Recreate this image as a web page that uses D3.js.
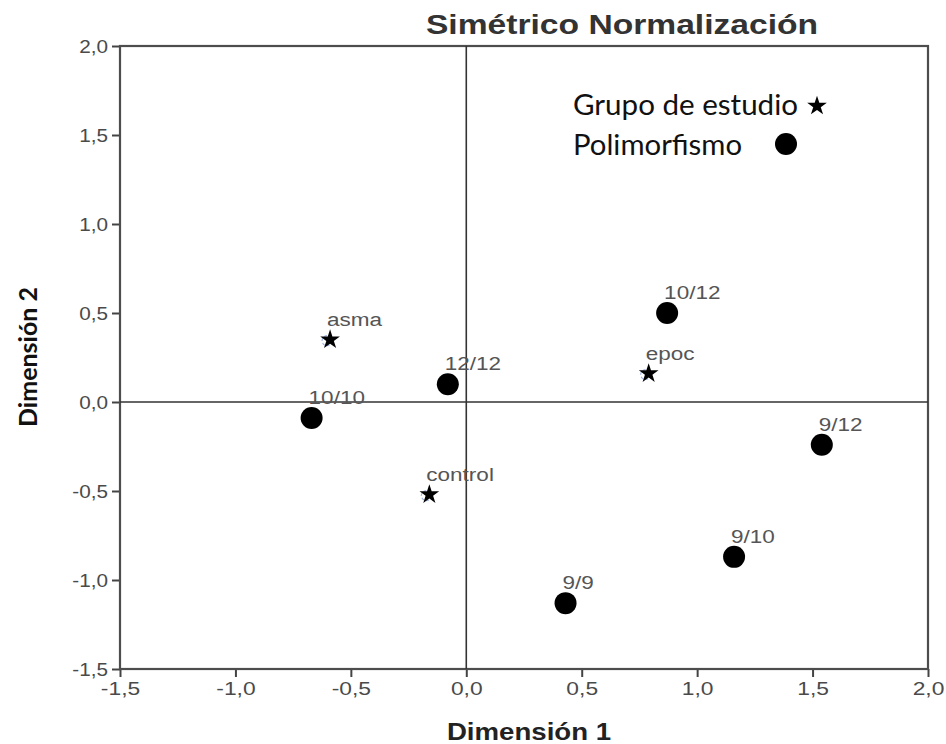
<!DOCTYPE html>
<html lang="es">
<head>
<meta charset="UTF-8">
<title>Simétrico Normalización</title>
<script src="https://d3js.org/d3.v7.min.js"></script>
<style>
	body { margin: 0; background: #fff; }
	svg { display: block; }
	.tick text { font-family: "Liberation Sans", Arial, sans-serif; fill: #4a4a4a; }
	.ptlabel { font-family: "Liberation Sans", Arial, sans-serif; font-size: 18px; fill: #555; }
</style>
</head>
<body>
<svg id="chart"></svg>
<script>
// Grupo de estudio (estrellas)
var grupos = ["asma", "epoc", "control"];
var grupoDim1 = [-0.59, 0.79, -0.16];
var grupoDim2 = [0.35, 0.16, -0.52];

// Polimorfismo (círculos)
var polimorfismos = ["10/10", "12/12", "10/12", "9/12", "9/10", "9/9"];
var polDim1 = [-0.67, -0.08, 0.87, 1.54, 1.16, 0.43];
var polDim2 = [-0.09, 0.10, 0.50, -0.24, -0.87, -1.13];

var xTicks = [-1.5, -1.0, -0.5, 0.0, 0.5, 1.0, 1.5, 2.0];
var yTicks = [-1.5, -1.0, -0.5, 0.0, 0.5, 1.0, 1.5, 2.0];
var legendLabels = ["Grupo de estudio", "Polimorfismo"];

var width = 946, height = 744;
var plotLeft = 120, plotRight = 928, plotTop = 46, plotBottom = 669;

var svg = d3.select("#chart").attr("width", width).attr("height", height);

var x = d3.scaleLinear().domain([-1.5, 2.0]).range([plotLeft, plotRight]);
var y = d3.scaleLinear().domain([-1.5, 2.0]).range([plotBottom, plotTop]);

var fmt = d3.formatLocale({decimal: ",", thousands: ".", grouping: [3], currency: ["", "€"], minus: "-"}).format(".1f");

// stretch text horizontally (the original rendering is wider than our fonts)
function stretch(sel, k) {
	sel.each(function() {
		var w = this.getComputedTextLength();
		d3.select(this).attr("textLength", w * k).attr("lengthAdjust", "spacingAndGlyphs");
	});
}

// axes
var gx = svg.append("g")
	.attr("transform", "translate(0," + plotBottom + ")")
	.call(d3.axisBottom(x).tickValues(xTicks).tickFormat(fmt).tickSize(8).tickPadding(5));
gx.selectAll("text").style("font-size", "19px");
stretch(gx.selectAll("text"), 1.2);

var gy = svg.append("g")
	.attr("transform", "translate(" + plotLeft + ",0)")
	.call(d3.axisLeft(y).tickValues(yTicks).tickFormat(fmt).tickSize(8).tickPadding(4));
gy.selectAll("text").style("font-size", "18px").attr("dy", "0.36em");
stretch(gy.selectAll("text"), 1.15);

svg.selectAll(".domain").remove();
svg.selectAll(".tick line").attr("stroke", "#444").attr("stroke-width", 2);

// frame
svg.append("rect")
	.attr("x", plotLeft).attr("y", plotTop)
	.attr("width", plotRight - plotLeft).attr("height", plotBottom - plotTop)
	.attr("fill", "none").attr("stroke", "#4d4d4d").attr("stroke-width", 2.2);

// reference lines at 0
svg.append("line")
	.attr("x1", x(0)).attr("x2", x(0)).attr("y1", plotTop).attr("y2", plotBottom)
	.attr("stroke", "#333").attr("stroke-width", 1.6);
svg.append("line")
	.attr("x1", plotLeft).attr("x2", plotRight).attr("y1", y(0)).attr("y2", y(0))
	.attr("stroke", "#333").attr("stroke-width", 1.6);

var star = d3.symbol().type(d3.symbolStar).size(120);

// Polimorfismo points
var polData = polimorfismos.map(function(d, i) { return {label: d, d1: polDim1[i], d2: polDim2[i]}; });
svg.selectAll("circle.pol").data(polData).enter().append("circle")
	.attr("class", "pol")
	.attr("cx", function(d) { return x(d.d1); })
	.attr("cy", function(d) { return y(d.d2); })
	.attr("r", 11)
	.attr("fill", "#000");

// Grupo de estudio points
var grpData = grupos.map(function(d, i) { return {label: d, d1: grupoDim1[i], d2: grupoDim2[i]}; });
svg.selectAll("circle.ghost").data(grpData).enter().append("circle")
	.attr("class", "ghost")
	.attr("cx", function(d) { return x(d.d1) - 3; })
	.attr("cy", function(d) { return y(d.d2) + 1; })
	.attr("r", 5)
	.attr("fill", "none").attr("stroke", "#9fb4e6").attr("stroke-width", 1.2)
	.attr("stroke-dasharray", "3,2");
svg.selectAll("path.grp").data(grpData).enter().append("path")
	.attr("class", "grp")
	.attr("d", star)
	.attr("transform", function(d) { return "translate(" + x(d.d1) + "," + y(d.d2) + ")"; })
	.attr("fill", "#000");

// point labels
var labels = svg.selectAll("text.ptlabel").data(polData.concat(grpData)).enter().append("text")
	.attr("class", "ptlabel")
	.attr("x", function(d) { return x(d.d1) - 3; })
	.attr("y", function(d) { return y(d.d2) - 14; })
	.text(function(d) { return d.label; });
stretch(labels, 1.25);

// title
var title = svg.append("text")
	.attr("x", 622).attr("y", 34)
	.attr("text-anchor", "middle")
	.style("font-family", "'Liberation Sans', Arial, sans-serif")
	.style("font-weight", "bold").style("font-size", "28px").style("fill", "#333")
	.text("Simétrico Normalización");
stretch(title, 1.2);

// axis titles
var xt = svg.append("text")
	.attr("x", 529).attr("y", 740)
	.attr("text-anchor", "middle")
	.style("font-family", "'Liberation Sans', Arial, sans-serif")
	.style("font-weight", "bold").style("font-size", "23px").style("fill", "#222")
	.text("Dimensión 1");
stretch(xt, 1.2);

svg.append("text")
	.attr("transform", "translate(37,357) rotate(-90)")
	.attr("text-anchor", "middle")
	.style("font-family", "Lato, 'Open Sans', sans-serif")
	.style("font-weight", "bold").style("font-size", "25px").style("fill", "#111")
	.text("Dimensión 2");

// legend
var legend = svg.selectAll("g.legend").data(legendLabels).enter().append("g")
	.attr("class", "legend")
	.attr("transform", function(d, i) { return "translate(573," + (115 + i * 40) + ")"; });
var legText = legend.append("text")
	.style("font-family", "Lato, 'Open Sans', sans-serif")
	.style("font-size", "28px").style("fill", "#111")
	.text(function(d) { return d; });
legText.each(function(d, i) {
	var target = i === 0 ? 225 : 169;
	d3.select(this).attr("textLength", target).attr("lengthAdjust", "spacingAndGlyphs");
});
legend.filter(function(d, i) { return i === 0; }).append("path")
	.attr("d", star)
	.attr("transform", "translate(244,-9)")
	.attr("fill", "#000");
legend.filter(function(d, i) { return i === 1; }).append("circle")
	.attr("cx", 213).attr("cy", -11).attr("r", 11)
	.attr("fill", "#000");
</script>
</body>
</html>
